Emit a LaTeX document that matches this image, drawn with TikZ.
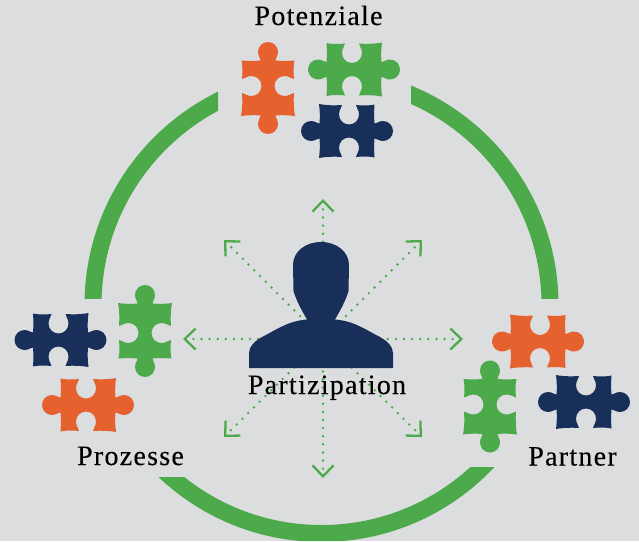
\documentclass[tikz,border=0pt]{standalone}
\usepackage{fontspec}
\setmainfont[LetterSpace=4.5,FakeBold=0.2]{Liberation Serif}
\usetikzlibrary{arrows.meta}
\definecolor{bgc}{RGB}{220,221,223}
\definecolor{gr}{RGB}{77,170,74}
\definecolor{nv}{RGB}{24,47,90}
\definecolor{og}{RGB}{229,98,46}
\tikzset{
  x=1pt,y=-1pt,
  ring/.style={draw=gr,line width=17pt},
  ray/.style={draw=gr,line width=2.7pt,line cap=round,dash pattern=on 0pt off 8.1pt,
    -{Straight Barb[length=11pt,width=21pt,line width=2.3pt]}},
  label/.style={font=\fontsize{28}{28}\selectfont,anchor=base,inner sep=0pt,text=black},
  piece/.pic={
    \path[pic actions] (-27.5,-26.5)
      .. controls (-20,-25) and (-14,-25.5) .. (-9,-26)
      .. controls (-9,-23.5) and (-12,-21.5) .. (-12,-16.5)
      .. controls (-12,-11) and (-7.5,-6.5) .. (-2,-6.5)
      .. controls (3.5,-6.5) and (8,-11) .. (8,-16.5)
      .. controls (8,-21.5) and (5,-23.5) .. (5,-26)
      .. controls (12,-25.5) and (20,-25.5) .. (28,-27)
      .. controls (27,-20) and (27,-13) .. (27.5,-7.5)
      .. controls (30,-7) and (31,-10) .. (36,-10)
      .. controls (41.5,-10) and (46,-5.5) .. (46,0)
      .. controls (46,5.5) and (41.5,10) .. (36,10)
      .. controls (31,10) and (30,7) .. (27.5,7.5)
      .. controls (27,13) and (27,20) .. (28,27)
      .. controls (20,25.5) and (12,25.5) .. (5,26)
      .. controls (5,23.5) and (8,21.5) .. (8,16.5)
      .. controls (8,11) and (3.5,6.5) .. (-2,6.5)
      .. controls (-7.5,6.5) and (-12,11) .. (-12,16.5)
      .. controls (-12,21.5) and (-9,23.5) .. (-9,26)
      .. controls (-14,25.5) and (-20,25) .. (-27.5,26.5)
      .. controls (-27,20) and (-27,13) .. (-27.5,7.5)
      .. controls (-30,7) and (-31,10) .. (-36,10)
      .. controls (-41.5,10) and (-46,5.5) .. (-46,0)
      .. controls (-46,-5.5) and (-41.5,-10) .. (-36,-10)
      .. controls (-31,-10) and (-30,-7) .. (-27.5,-7.5)
      .. controls (-27,-13) and (-27,-20) .. cycle;
  }
}
\begin{document}
\begin{tikzpicture}
\useasboundingbox (0,0) rectangle (639,541);
\fill[bgc] (0,0) rectangle (639,541);
\coordinate (ctr) at (321.5,305);
% ring segments
\begin{scope}
  \clip (0,0) rectangle (218,298);
  \draw[ring] (ctr) circle[radius=228.5pt];
\end{scope}
\begin{scope}
  \clip (411,0) rectangle (639,298);
  \draw[ring] (ctr) circle[radius=228.5pt];
\end{scope}
\begin{scope}
  \clip (0,477) -- (321,477) -- (321,467) -- (639,467) -- (639,541) -- (0,541) -- cycle;
  \draw[ring] (ctr) circle[radius=228.5pt];
\end{scope}
% rays
\coordinate (hub) at (323,339);
\coordinate (tN) at (323,199);
\coordinate (tS) at (323,478);
\coordinate (tW) at (183,339);
\coordinate (tE) at (463,339);
\coordinate (tNE) at (422,240);
\coordinate (tNW) at (224,240);
\coordinate (tSW) at (224,437);
\coordinate (tSE) at (422,437);
\foreach \t in {tN,tS,tW,tE,tNE,tNW,tSW,tSE}{
  \draw[ray] (hub) -- (\t);
}
% person
\fill[nv] (249,368) -- (249,353)
  .. controls (249,346) and (255,341) .. (262,337)
  .. controls (270,333) and (276,329) .. (283,326)
  .. controls (291,322) and (300,320) .. (307,319.5)
  .. controls (302,311) and (296,300) .. (293.5,291)
  -- (293,265)
  .. controls (293,252) and (305,242) .. (321,242)
  .. controls (337,242) and (349,252) .. (349,265)
  -- (348.5,291)
  .. controls (346,300) and (340,311) .. (335,319.5)
  .. controls (342,320) and (351,322) .. (359,326)
  .. controls (366,329) and (372,333) .. (380,337)
  .. controls (387,341) and (393,346) .. (393,353)
  -- (393,368) -- cycle;
% puzzle pieces
\pic[fill=og,rotate=-90] at (268,88) {piece};
\pic[fill=gr] at (354,69.5) {piece};
\pic[fill=nv,xscale=-1] at (347,131) {piece};
\pic[fill=nv] at (60.5,340) {piece};
\pic[fill=gr,rotate=90] at (145,331) {piece};
\pic[fill=og] at (88,405) {piece};
\pic[fill=og,xscale=-1] at (538,341.5) {piece};
\pic[fill=gr,rotate=-90] at (490,406.5) {piece};
\pic[fill=nv,xscale=-1] at (584,402) {piece};
% labels
\node[label] (lpot) at (318.5,25) {Potenziale};
\node[label] (lpar) at (327,394) {Partizipation};
\node[label] (lpro) at (130.5,465) {Prozesse};
\node[label] (lprt) at (572.5,465.5) {Partner};
\end{tikzpicture}
\end{document}
